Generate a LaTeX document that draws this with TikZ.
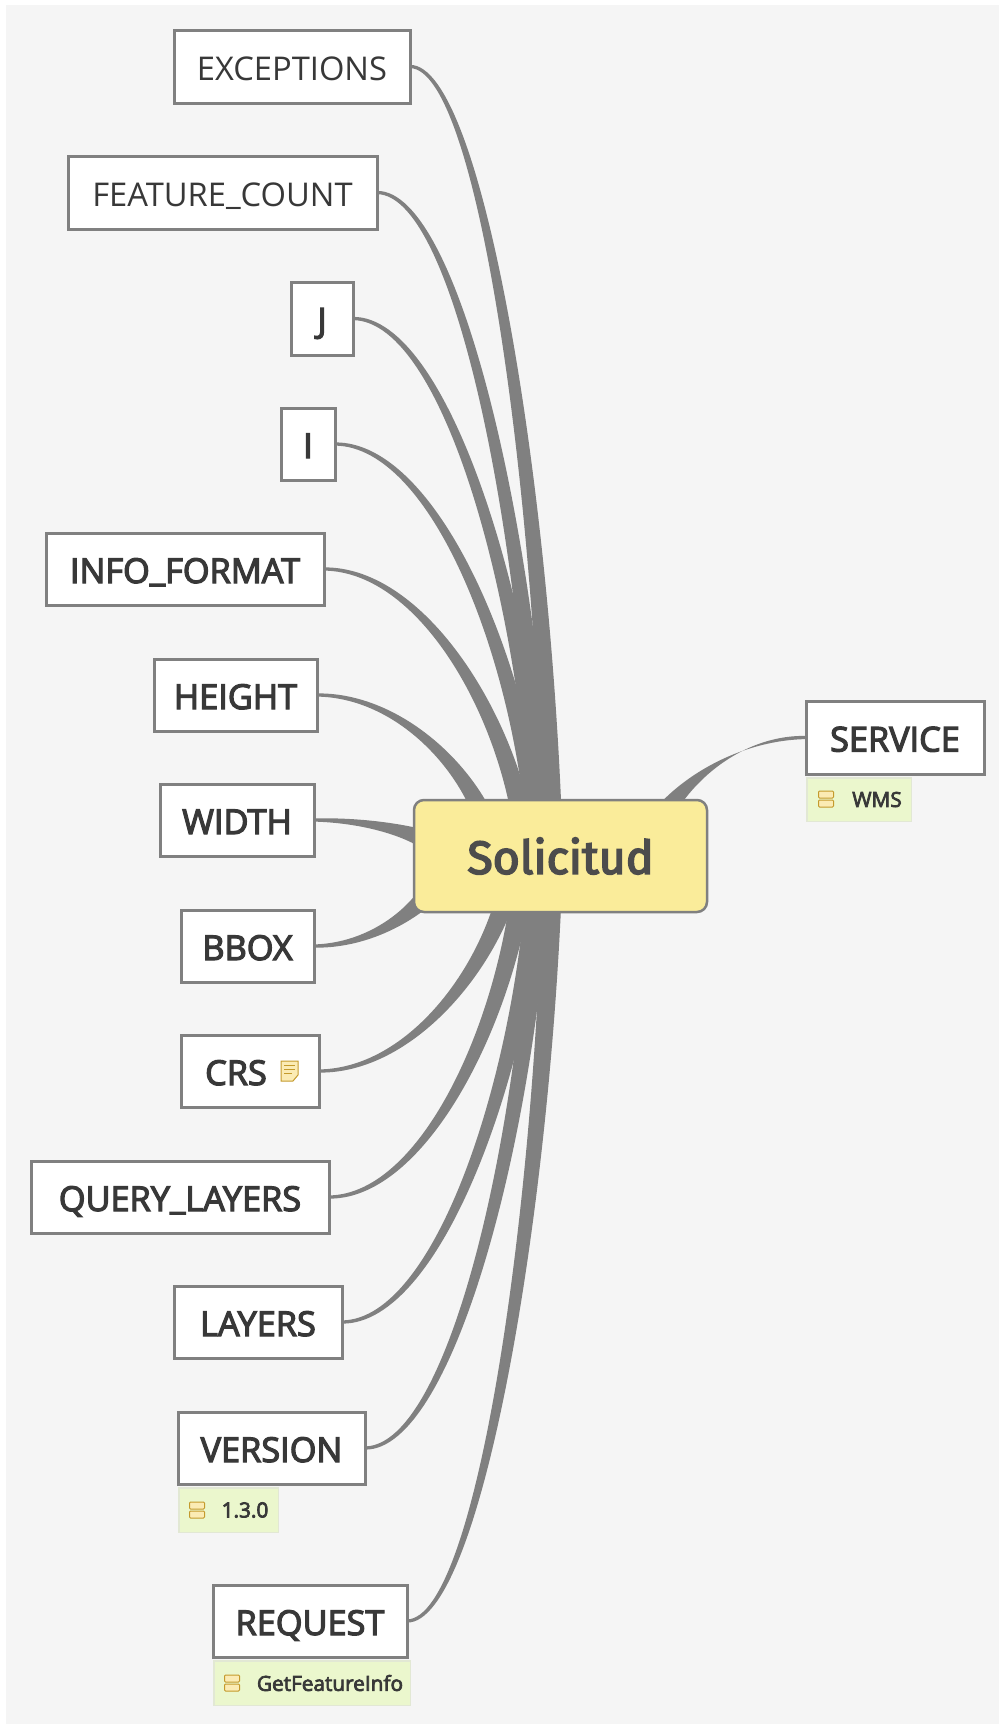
\documentclass[tikz,border=0pt]{standalone}
\usepackage{fontspec}
\setmainfont{Open Sans}
\newfontfamily\semi[FakeBold=3.5]{Open Sans}
\newfontfamily\rootf[FakeBold=3.5]{Fira Sans}
\pgfdeclarelayer{bg}\pgfdeclarelayer{conn}
\pgfsetlayers{bg,conn,main}
\definecolor{line}{HTML}{808080}
\definecolor{paper}{HTML}{F5F5F5}
\definecolor{rootfill}{HTML}{FAEC9A}
\definecolor{tagfill}{HTML}{EBF7CD}
\definecolor{tagline}{HTML}{E2E8D4}
\definecolor{ink}{HTML}{383838}
\definecolor{iconl}{HTML}{C49A2C}
\definecolor{iconf}{HTML}{FBEBB4}
\tikzset{
 x=1pt,y=-1pt,
 boxbase/.style={rectangle,inner sep=0pt,outer sep=0pt,text=ink,anchor=center},
 childbox/.style={boxbase,draw=line,fill=white,line width=3pt,text height=28pt,text depth=0pt},
 rootbox/.style={boxbase,draw=line,fill=rootfill,line width=2.5pt,rounded corners=10pt,text=ink!90},
 tagbox/.style={boxbase,draw=tagline,fill=tagfill,line width=1.5pt},
 branchfill/.style={fill=line,draw=none},
 iconpart/.style={draw=iconl,fill=iconf,line width=1pt},
}
\newcommand\lite{\fontsize{32.7}{33}\selectfont}
\newcommand\bold{\semi\fontsize{34.3}{34}\selectfont}
\newcommand\tagf{\semi\fontsize{20.8}{21}\selectfont}
\newcommand\us{\raisebox{2pt}{\_}}
\newcommand\bx[7]{\node[#1,minimum width={#5-#3-2},minimum height={#6-#4-2}] (#2) at ({(#3+#5)/2},{(#4+#6)/2}) {#7};}
\newcommand\tg[7]{\node[#1,minimum width={#5-#3-1.5},minimum height={#6-#4-1.5}] (#2) at ({(#3+#5)/2},{(#4+#6)/2}) {#7};}
% child point, target, half width ; shared curve shape a=.5 b=.057 c=.45
\newcommand\branch[3]{%
 \path (#1);\pgfgetlastxy{\xa}{\ya}%
 \path (#2);\pgfgetlastxy{\xb}{\yb}%
 \pgfmathsetmacro\Xa{\xa}\pgfmathsetmacro\Ya{\ya}\pgfmathsetmacro\Xb{\xb}\pgfmathsetmacro\Yb{\yb}%
 \pgfmathsetmacro\dxx{\Xb-\Xa}\pgfmathsetmacro\dyy{\Yb-\Ya}%
 \pgfmathsetmacro\cax{\Xa+0.5*\dxx}\pgfmathsetmacro\cay{\Ya}%
 \pgfmathsetmacro\cbx{\Xb-0.057*\dxx}\pgfmathsetmacro\cby{\Yb-0.45*\dyy}%
 \pgfmathsetmacro\tx{\Xb-\cbx}\pgfmathsetmacro\ty{\Yb-\cby}%
 \pgfmathsetmacro\ln{veclen(\tx,\ty)}%
 \pgfmathsetmacro\nx{-\ty/\ln*#3}\pgfmathsetmacro\ny{\tx/\ln*#3}%
 \begin{pgfonlayer}{conn}
 \fill[branchfill]
  (\Xa pt,\Ya pt+1.6pt)
  .. controls (\cax pt+0.25*\nx pt,\cay pt+1.6pt+0.1*#3 pt) and (\cbx pt+0.8*\nx pt,\cby pt+0.8*\ny pt) .. (\Xb pt+\nx pt,\Yb pt+\ny pt)
  -- (\Xb pt-\nx pt,\Yb pt-\ny pt)
  .. controls (\cbx pt-0.8*\nx pt,\cby pt-0.8*\ny pt) and (\cax pt-0.25*\nx pt,\cay pt-1.6pt-0.1*#3 pt) .. (\Xa pt,\Ya pt-1.6pt)
  -- cycle;
 \end{pgfonlayer}}
\newcommand\dbicon[2]{%
 \draw[iconpart,rounded corners=1pt] (#1-7.5,#2-8) rectangle (#1+7.5,#2-1);
 \draw[iconpart,rounded corners=1pt] (#1-7.5,#2+1) rectangle (#1+7.5,#2+8);}
\begin{document}
\begin{tikzpicture}
\begin{pgfonlayer}{bg}
 \fill[white] (0,0) rectangle (999,1724);
 \fill[paper] (6,5) rectangle (999,1724);
\end{pgfonlayer}
\useasboundingbox (0,0) rectangle (999,1724);
\bx{rootbox}{root}{413}{799}{708}{913}{\rootf\fontsize{46.5}{46}\selectfont Solicitud}
\bx{childbox}{exc}{173}{29}{411}{104}{\lite EXCEPTIONS}
\bx{childbox}{fea}{67}{155}{378}{230}{\lite FEATURE\us COUNT}
\bx{childbox}{jj}{290}{281}{354}{356}{\bold J}
\bx{childbox}{ii}{280}{407}{336}{481}{\bold I}
\bx{childbox}{inf}{45}{532}{325}{606}{\bold INFO\us FORMAT}
\bx{childbox}{hei}{153}{658}{318}{732}{\bold HEIGHT}
\bx{childbox}{wid}{159}{783}{315}{857}{\bold WIDTH}
\bx{childbox}{bbo}{180}{909}{315}{983}{\bold BBOX}
\bx{childbox}{crs}{180}{1034}{320}{1108}{\bold CRS\hspace{28pt}\null}
\bx{childbox}{que}{30}{1160}{330}{1234}{\bold QUERY\us LAYERS}
\bx{childbox}{lay}{173}{1285}{343}{1359}{\bold LAYERS}
\bx{childbox}{ver}{177}{1411}{366}{1485}{\bold VERSION}
\bx{childbox}{req}{212}{1584}{408}{1658}{\bold REQUEST}
\bx{childbox}{ser}{805}{700}{985}{775}{\bold SERVICE}
\tg{tagbox}{tver}{178}{1487}{279}{1533}{\hspace{33pt}\tagf 1.3.0}
\tg{tagbox}{treq}{213}{1660}{411}{1706}{\hspace{36pt}\tagf GetFeatureInfo}
\tg{tagbox}{tser}{806}{777}{912}{822}{\hspace{36pt}\tagf WMS}
\dbicon{197}{1510}
\dbicon{232}{1683}
\dbicon{826}{799}
\draw[iconpart] (281,1061) -- (298,1061) -- (298,1075) -- (293,1081) -- (281,1081) -- cycle;
\draw[iconl,line width=1pt] (284,1065.5) -- (295,1065.5) (284,1069.5) -- (295,1069.5) (284,1073.5) -- (292,1073.5);
\coordinate (texc) at (553,855);
\coordinate (tfea) at (543,855);
\coordinate (tjj)  at (542,855);
\coordinate (tii)  at (538,855);
\coordinate (tinf) at (527,855);
\coordinate (thei) at (495,855);
\coordinate (twid) at (450,855);
\coordinate (tbbo) at (450,855);
\coordinate (tcrs) at (515,855);
\coordinate (tque) at (525,855);
\coordinate (tlay) at (538,855);
\coordinate (tver) at (541,855);
\coordinate (treqq) at (553,855);
\coordinate (tser) at (645,855);
\branch{exc.east}{texc}{10}
\branch{fea.east}{tfea}{10}
\branch{jj.east}{tjj}{10}
\branch{ii.east}{tii}{10}
\branch{inf.east}{tinf}{10.5}
\branch{hei.east}{thei}{11}
\branch{wid.east}{twid}{17}
\branch{bbo.east}{tbbo}{15}
\branch{crs.east}{tcrs}{11}
\branch{que.east}{tque}{10.5}
\branch{lay.east}{tlay}{10}
\branch{ver.east}{tver}{10}
\branch{req.east}{treqq}{10}
\branch{ser.west}{tser}{14}
\end{tikzpicture}
\end{document}
